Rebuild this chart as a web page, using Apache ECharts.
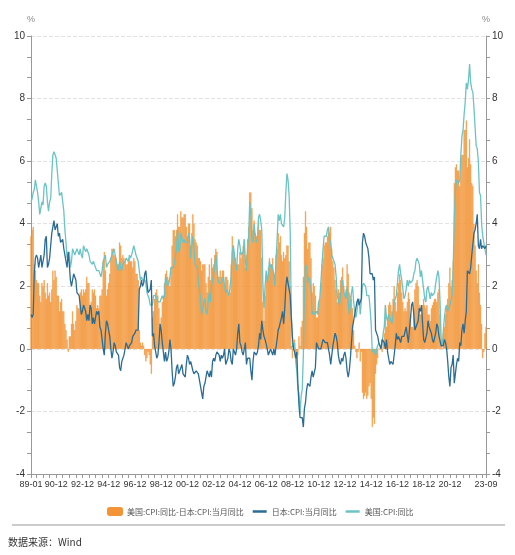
<!DOCTYPE html>
<html><head><meta charset="utf-8">
<script src="https://cdn.jsdelivr.net/npm/echarts@6/dist/echarts.min.js"></script>
<style>html,body{margin:0;padding:0;background:#fff}#c{width:515px;height:555px}</style>
</head><body><div id="c"></div>
<script>
// Month range 1989-01 .. 2023-09
const startYear = 1989, startMonth = 1, monthCount = 417;
const months = [];
for (let i = 0; i < monthCount; i++) {
  const y = startYear + Math.floor((startMonth - 1 + i) / 12);
  const m = (startMonth - 1 + i) % 12 + 1;
  months.push(String(y % 100).padStart(2, '0') + '-' + String(m).padStart(2, '0'));
}
const yTicks = [-4, -2, 0, 2, 4, 6, 8, 10];

// 美国:CPI:同比
const usCpi = [
 4.7,4.8,5.0,5.1,5.4,5.2,5.0,4.7,4.3,4.5,4.7,4.6,
 5.2,5.3,5.2,4.7,4.4,4.7,4.8,5.6,6.2,6.3,6.3,6.1,
 5.7,5.3,4.9,4.9,5.0,4.7,4.4,3.8,3.4,2.9,3.0,3.1,
 2.6,2.8,3.2,3.2,3.0,3.1,3.2,3.1,3.0,3.2,3.0,2.9,
 3.3,3.2,3.1,3.2,3.2,3.0,2.8,2.8,2.7,2.8,2.7,2.7,
 2.5,2.5,2.5,2.4,2.3,2.5,2.8,2.9,3.0,2.6,2.7,2.7,
 2.8,2.9,2.9,3.1,3.2,3.0,2.8,2.6,2.5,2.8,2.6,2.5,
 2.7,2.7,2.8,2.9,2.9,2.8,3.0,2.9,3.0,3.0,3.3,3.3,
 3.0,3.0,2.8,2.5,2.2,2.3,2.2,2.2,2.2,2.1,1.8,1.7,
 1.6,1.4,1.4,1.4,1.7,1.7,1.7,1.6,1.5,1.5,1.5,1.6,
 1.7,1.6,1.7,2.3,2.1,2.0,2.1,2.3,2.6,2.6,2.6,2.7,
 2.7,3.2,3.8,3.1,3.2,3.7,3.7,3.4,3.5,3.4,3.4,3.4,
 3.7,3.5,2.9,3.3,3.6,3.2,2.7,2.7,2.6,2.1,1.9,1.6,
 1.1,1.1,1.5,1.6,1.2,1.1,1.5,1.8,1.5,2.0,2.2,2.4,
 2.6,3.0,3.0,2.2,2.1,2.1,2.1,2.2,2.3,2.0,1.8,1.9,
 1.9,1.7,1.7,2.3,3.1,3.3,3.0,2.7,2.5,3.2,3.5,3.3,
 3.0,3.0,3.1,3.5,2.8,2.5,3.2,3.6,4.7,4.3,3.5,3.4,
 4.0,3.6,3.4,3.5,4.2,4.3,4.1,3.8,2.1,1.3,2.0,2.5,
 2.1,2.4,2.8,2.6,2.7,2.7,2.4,2.0,2.8,3.5,4.3,4.1,
 4.3,4.0,4.0,3.9,4.2,5.0,5.6,5.4,4.9,3.7,1.1,0.1,
 0.0,0.2,-0.4,-0.7,-1.3,-1.4,-2.1,-1.5,-1.3,-0.2,1.8,2.7,
 2.6,2.1,2.3,2.2,2.0,1.1,1.2,1.1,1.1,1.2,1.1,1.5,
 1.6,2.1,2.7,3.2,3.6,3.6,3.6,3.8,3.9,3.5,3.4,3.0,
 2.9,2.9,2.7,2.3,1.7,1.7,1.4,1.7,2.0,2.2,1.8,1.7,
 1.6,2.0,1.5,1.1,1.4,1.8,2.0,1.5,1.2,1.0,1.2,1.5,
 1.6,1.1,1.5,2.0,2.1,2.1,2.0,1.7,1.7,1.7,1.3,0.8,
 -0.1,0.0,-0.1,-0.2,0.0,0.1,0.2,0.2,0.0,0.2,0.5,0.7,
 1.4,1.0,0.9,1.1,1.0,1.0,0.8,1.1,1.5,1.6,1.7,2.1,
 2.5,2.7,2.4,2.2,1.9,1.6,1.7,1.9,2.2,2.0,2.2,2.1,
 2.1,2.2,2.4,2.5,2.8,2.9,2.9,2.7,2.3,2.5,2.2,1.9,
 1.6,1.5,1.9,2.0,1.8,1.6,1.8,1.7,1.7,1.8,2.1,2.3,
 2.5,2.3,1.5,0.3,0.1,0.6,1.0,1.3,1.4,1.2,1.2,1.4,
 1.4,1.7,2.6,4.2,5.0,5.4,5.4,5.3,5.4,6.2,6.8,7.0,
 7.5,7.9,8.5,8.3,8.6,9.1,8.5,8.3,8.2,7.7,7.1,6.5,
 6.4,6.0,5.0,4.9,4.0,3.6,3.4,3.2,3.0
];

// 日本:CPI:当月同比
const jpCpi = [
 1.1,1.0,1.1,2.4,2.9,3.0,2.9,2.6,2.6,3.0,2.6,2.6,
 3.0,3.5,3.6,2.6,2.7,2.9,3.3,3.7,3.7,4.1,3.8,3.8,
 4.0,3.6,3.7,3.4,3.4,3.5,3.2,3.0,2.8,2.6,3.1,2.7,
 2.2,2.0,2.0,2.4,2.4,2.2,1.8,1.8,1.7,1.4,1.1,1.2,
 1.4,1.4,1.2,0.9,1.1,0.9,1.4,1.3,0.8,1.0,0.8,1.0,
 1.2,1.1,1.2,0.7,0.6,0.6,0.0,-0.2,0.5,0.9,0.8,0.6,
 0.4,0.0,-0.3,-0.1,0.2,0.1,-0.1,-0.1,-0.2,-0.6,-0.7,-0.4,
 -0.3,-0.2,0.0,0.2,0.2,0.0,0.1,0.1,0.2,0.4,0.4,0.5,
 0.6,0.6,0.6,1.9,2.0,2.2,2.0,2.1,2.4,2.5,2.1,1.8,
 1.8,1.9,2.2,0.4,0.5,0.1,-0.1,-0.3,-0.2,0.2,0.8,0.6,
 0.2,-0.1,-0.4,-0.1,-0.4,-0.3,-0.1,0.3,0.0,-0.7,-1.2,-1.1,
 -0.9,-0.6,-0.5,-0.8,-0.7,-0.7,-0.5,-0.8,-0.8,-0.9,-0.5,-0.2,
 -0.3,-0.5,-0.4,-0.4,-0.7,-0.8,-0.8,-0.7,-0.7,-0.8,-1.0,-1.2,
 -1.4,-1.6,-1.2,-1.1,-0.9,-0.7,-0.8,-0.9,-0.7,-0.9,-0.4,-0.3,
 -0.4,-0.2,-0.1,-0.1,-0.2,-0.4,-0.2,-0.3,-0.2,0.0,-0.5,-0.4,
 -0.3,0.0,-0.1,-0.4,-0.5,0.0,-0.1,-0.2,0.0,0.5,0.8,0.2,
 0.1,-0.1,-0.2,0.0,0.2,-0.5,-0.3,-0.3,-0.3,-0.7,-1.0,-0.4,
 -0.1,-0.1,-0.2,-0.1,0.1,0.5,0.3,0.9,0.6,0.4,0.3,0.3,
 0.0,-0.2,-0.1,0.0,0.0,-0.2,0.0,-0.2,-0.2,0.3,0.6,0.7,
 0.7,1.0,1.2,0.8,1.3,2.0,2.3,2.1,2.1,1.7,1.0,0.4,
 0.0,-0.1,-0.3,-0.1,-1.1,-1.8,-2.2,-2.2,-2.2,-2.5,-1.9,-1.7,
 -1.3,-1.1,-1.1,-1.2,-0.9,-0.7,-0.9,-0.9,-0.6,0.2,0.1,0.0,
 0.0,0.0,0.0,0.3,0.3,0.2,0.2,0.2,0.0,-0.2,-0.5,-0.2,
 0.1,0.3,0.5,0.4,0.2,-0.2,-0.4,-0.5,-0.3,-0.4,-0.2,-0.1,
 -0.3,-0.7,-0.9,-0.7,-0.3,0.2,0.7,0.9,1.1,1.1,1.5,1.6,
 1.4,1.5,1.6,3.4,3.7,3.6,3.4,3.3,3.2,2.9,2.4,2.4,
 2.4,2.2,2.3,0.6,0.5,0.4,0.2,0.2,0.0,0.3,0.3,0.2,
 0.0,0.3,-0.1,-0.3,-0.5,-0.4,-0.4,-0.5,-0.5,0.1,0.5,0.3,
 0.4,0.3,0.2,0.4,0.4,0.4,0.4,0.7,0.7,0.2,0.6,1.0,
 1.4,1.5,1.1,0.6,0.7,0.7,0.9,1.3,1.2,1.4,0.8,0.3,
 0.2,0.2,0.5,0.9,0.7,0.7,0.5,0.3,0.2,0.2,0.5,0.8,
 0.7,0.4,0.4,0.1,0.1,0.1,0.3,0.2,0.0,-0.4,-0.9,-1.2,
 -0.6,-0.5,-0.2,-1.1,-0.8,-0.5,-0.3,-0.4,0.2,0.1,0.6,0.8,
 0.5,0.9,1.2,2.5,2.5,2.4,2.6,3.0,3.0,3.7,3.8,4.0,
 4.3,3.3,3.2,3.5,3.2,3.3,3.3,3.2,3.3
];

// 美国:CPI:同比-日本:CPI:当月同比
const spread = [
 3.6,3.8,3.9,2.7,2.5,2.2,2.1,2.1,1.7,1.5,2.1,2.0,
 2.2,1.8,1.6,2.1,1.7,1.8,1.5,1.9,2.5,2.2,2.5,2.3,
 1.7,1.7,1.2,1.5,1.6,1.2,1.2,0.8,0.6,0.3,-0.1,0.4,
 0.4,0.8,1.2,0.8,0.6,0.9,1.4,1.3,1.3,1.8,1.9,1.7,
 1.9,1.8,1.9,2.3,2.1,2.1,1.4,1.5,1.9,1.8,1.9,1.7,
 1.3,1.4,1.3,1.7,1.7,1.9,2.8,3.1,2.5,1.7,1.9,2.1,
 2.4,2.9,3.2,3.2,3.0,2.9,2.9,2.7,2.7,3.4,3.3,2.9,
 3.0,2.9,2.8,2.7,2.7,2.8,2.9,2.8,2.8,2.6,2.9,2.8,
 2.4,2.4,2.2,0.6,0.2,0.1,0.2,0.1,-0.2,-0.4,-0.3,-0.1,
 -0.2,-0.5,-0.8,1.0,1.2,1.6,1.8,1.9,1.7,1.3,0.7,1.0,
 1.5,1.7,2.1,2.4,2.5,2.3,2.2,2.0,2.6,3.3,3.8,3.8,
 3.6,3.8,4.3,3.9,3.9,4.4,4.2,4.2,4.3,4.3,3.9,3.6,
 4.0,4.0,3.3,3.7,4.3,4.0,3.5,3.4,3.3,2.9,2.9,2.8,
 2.5,2.7,2.7,2.7,2.1,1.8,2.3,2.7,2.2,2.9,2.6,2.7,
 3.0,3.2,3.1,2.3,2.3,2.5,2.3,2.5,2.5,2.0,2.3,2.3,
 2.2,1.7,1.8,2.7,3.6,3.3,3.1,2.9,2.5,2.7,2.7,3.1,
 2.9,3.1,3.3,3.5,2.6,3.0,3.5,3.9,5.0,5.0,4.5,3.8,
 4.1,3.7,3.6,3.6,4.1,3.8,3.8,2.9,1.5,0.9,1.7,2.2,
 2.1,2.6,2.9,2.6,2.7,2.9,2.4,2.2,3.0,3.2,3.7,3.4,
 3.6,3.0,2.8,3.1,2.9,3.0,3.3,3.3,2.8,2.0,0.1,-0.3,
 0.0,0.3,-0.1,-0.6,-0.2,0.4,0.1,0.7,0.9,2.3,3.7,4.4,
 3.9,3.2,3.4,3.4,2.9,1.8,2.1,2.0,1.7,1.0,1.0,1.5,
 1.6,2.1,2.7,2.9,3.3,3.4,3.4,3.6,3.9,3.7,3.9,3.2,
 2.8,2.6,2.2,1.9,1.5,1.9,1.8,2.2,2.3,2.6,2.0,1.8,
 1.9,2.7,2.4,1.8,1.7,1.6,1.3,0.6,0.1,-0.1,-0.3,-0.1,
 0.2,-0.4,-0.1,-1.4,-1.6,-1.5,-1.4,-1.6,-1.5,-1.2,-1.1,-1.6,
 -2.5,-2.2,-2.4,-0.8,-0.5,-0.3,0.0,0.0,0.0,-0.1,0.2,0.5,
 1.4,0.7,1.0,1.4,1.5,1.4,1.2,1.6,2.0,1.5,1.2,1.8,
 2.1,2.4,2.2,1.8,1.5,1.2,1.3,1.2,1.5,1.8,1.6,1.1,
 0.7,0.7,1.3,1.9,2.1,2.2,2.0,1.4,1.1,1.1,1.4,1.6,
 1.4,1.3,1.4,1.1,1.1,0.9,1.3,1.4,1.5,1.6,1.6,1.5,
 1.8,1.9,1.1,0.2,0.0,0.5,0.7,1.1,1.4,1.6,2.1,2.6,
 2.0,2.2,2.8,5.3,5.8,5.9,5.7,5.7,5.2,6.1,6.2,6.2,
 7.0,7.0,7.3,5.8,6.1,6.7,5.9,5.3,5.2,4.0,3.3,2.5,
 2.1,2.7,1.8,1.4,0.8,-0.3,-0.1,0.5,0.7
];

const seriesNames = ['美国:CPI:同比-日本:CPI:当月同比', '日本:CPI:当月同比', '美国:CPI:同比'];
const colors = { bar: '#F39436', jp: '#2B6C94', us: '#6CC3C4' };

const last = monthCount - 1;
const labelShown = (i) => i === 0 || i === last || (i % 24 === 23 && last - i > 12);
const tickShown = (i) => i === 0 || i === last || i % 6 === 5;

const cjk = '"Noto Sans CJK SC", "Noto Sans", sans-serif';
const num = '"Liberation Sans", "DejaVu Sans", sans-serif';
const yAxisBase = (pos) => ({
  type: 'value', position: pos, min: yTicks[0], max: yTicks[yTicks.length - 1], interval: 2,
  name: '%', nameLocation: 'end', nameGap: 12,
  nameTextStyle: { color: '#888', fontSize: 9, fontFamily: num, align: 'center' },
  axisLine: { show: true, lineStyle: { color: '#999', width: 1 } },
  axisTick: { show: true, length: 4, lineStyle: { color: '#999' } },
  minorTick: { show: true, splitNumber: 3, length: 4, lineStyle: { color: '#999' } },
  axisLabel: { color: '#333', fontSize: 10, fontFamily: num, margin: 6 },
  splitLine: { show: pos === 'left', lineStyle: { color: '#e2e2e2', type: 'dashed' } }
});

const lineIcon = 'path://M0,0 L28,0 L28,5 L0,5 Z';

const chart = echarts.init(document.getElementById('c'), null, { renderer: 'canvas' });
chart.setOption({
  animation: false,
  backgroundColor: '#fff',
  grid: { left: 31, right: 29, top: 36, bottom: 81, containLabel: false },
  legend: {
    data: [
      { name: seriesNames[0], icon: 'roundRect' },
      { name: seriesNames[1], icon: lineIcon },
      { name: seriesNames[2], icon: lineIcon }
    ],
    left: 102, top: 502, itemWidth: 14, itemHeight: 7, itemGap: 9, symbolKeepAspect: true,
    textStyle: { color: '#555', fontSize: 8, fontFamily: cjk }
  },
  xAxis: {
    type: 'category', data: months, boundaryGap: false,
    axisLine: { onZero: false, lineStyle: { color: '#999' } },
    axisTick: { show: true, length: 4, interval: (i) => tickShown(i), lineStyle: { color: '#999' } },
    axisLabel: { color: '#333', fontSize: 9, fontFamily: num, margin: 6, interval: (i) => labelShown(i), showMinLabel: true, showMaxLabel: true },
    splitLine: { show: false }
  },
  yAxis: [yAxisBase('left'), yAxisBase('right')],
  series: [
    { name: seriesNames[0], type: 'bar', data: spread, yAxisIndex: 0, barCategoryGap: '0%',
      itemStyle: { color: colors.bar, borderColor: colors.bar, borderWidth: 0.4 }, z: 1 },
    { name: seriesNames[1], type: 'line', data: jpCpi, yAxisIndex: 0, symbol: 'none', showSymbol: false,
      lineStyle: { color: colors.jp, width: 1.3 }, itemStyle: { color: colors.jp }, z: 3 },
    { name: seriesNames[2], type: 'line', data: usCpi, yAxisIndex: 0, symbol: 'none', showSymbol: false,
      lineStyle: { color: colors.us, width: 1.3 }, itemStyle: { color: colors.us }, z: 2 }
  ],
  graphic: [
    { type: 'line', shape: { x1: 12, y1: 525, x2: 505, y2: 525 }, style: { stroke: '#999', lineWidth: 1 } },
    { type: 'text', left: 8, top: 537, style: { text: '数据来源：Wind', fill: '#333', fontSize: 10, fontFamily: cjk } }
  ]
});
</script></body></html>
